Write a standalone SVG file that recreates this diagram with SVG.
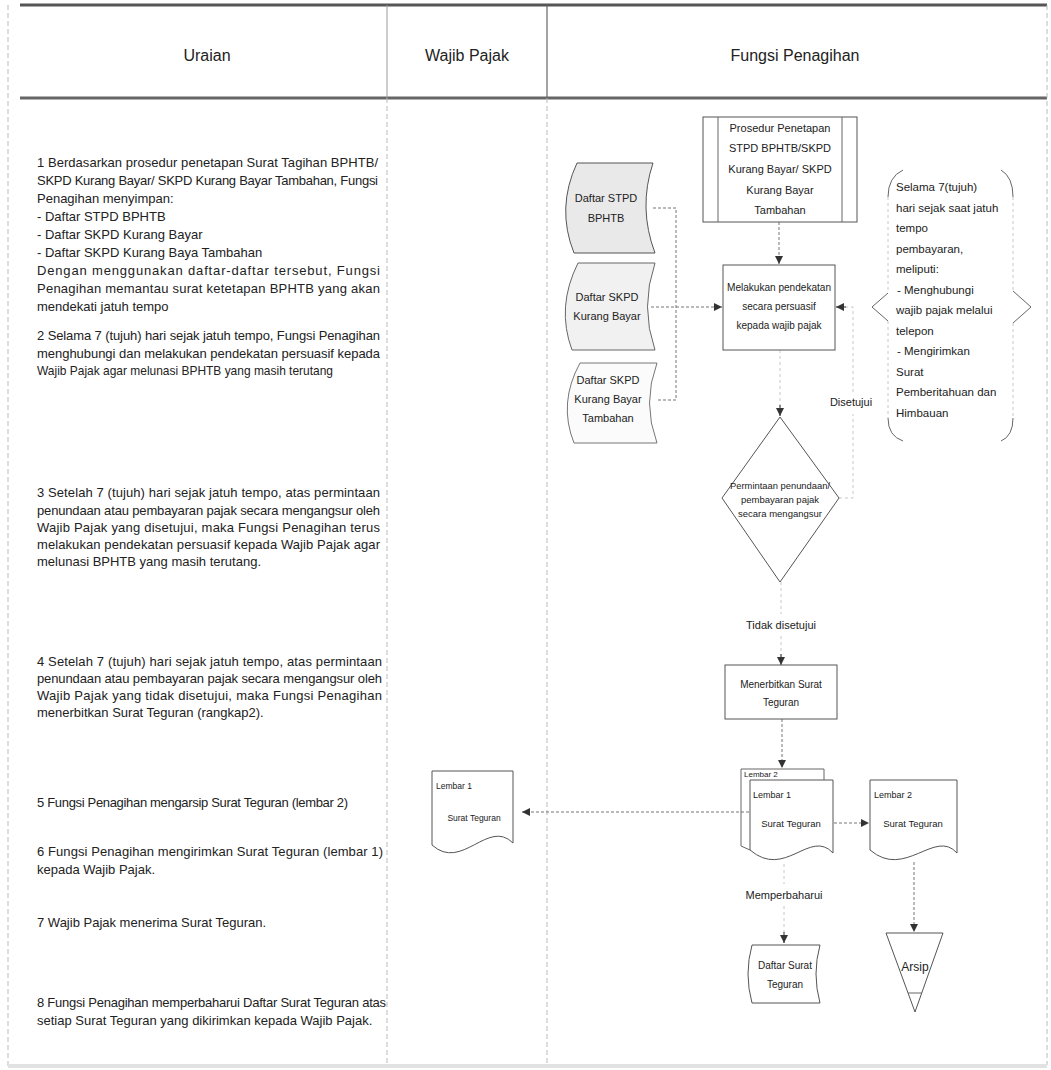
<svg xmlns="http://www.w3.org/2000/svg" width="1051" height="1070" viewBox="0 0 1051 1070">
<defs>
<marker id="ah" viewBox="0 0 10 10" refX="10" refY="5" markerWidth="8" markerHeight="8" markerUnits="userSpaceOnUse" orient="auto">
<path d="M0,0 L10,5 L0,10 z" fill="#333"/>
</marker>
</defs>
<style>
.t{font-family:'Liberation Sans',Arial,sans-serif;fill:#222}
.p{font-size:13px}
.h{font-size:16px;text-anchor:middle}
.n{font-size:11px}
.b{font-size:11.5px}
.m{font-size:10px;text-anchor:middle}
.c{text-anchor:middle}
.shape{fill:#fff;stroke:#555;stroke-width:1}
.conn{fill:none;stroke:#777;stroke-width:1;stroke-dasharray:3 2}
.faint{fill:none;stroke:#c8c8c8;stroke-width:1;stroke-dasharray:3 3}
.solid{fill:none;stroke:#666;stroke-width:1}
.grid{stroke:#bbb;stroke-width:1;stroke-dasharray:5 3;fill:none}
</style>
<rect width="1051" height="1070" fill="#fff"/>

<g id="table">
<line x1="20" y1="5" x2="1047" y2="5" stroke="#555" stroke-width="3"/>
<line x1="20" y1="98" x2="1047" y2="98" stroke="#666" stroke-width="3"/>
<line class="grid" x1="8" y1="5" x2="8" y2="1068"/>
<line x1="387" y1="5" x2="387" y2="98" stroke="#999" stroke-width="1"/>
<line class="grid" x1="387" y1="98" x2="387" y2="1065"/>
<line x1="547" y1="5" x2="547" y2="98" stroke="#666" stroke-width="1.2"/>
<line class="grid" x1="547" y1="98" x2="547" y2="1065"/>
<line class="grid" x1="1047" y1="5" x2="1047" y2="1065"/>
<line x1="8" y1="1066" x2="1047" y2="1066" stroke="#e2e2e2" stroke-width="4"/>
<text class="t h" x="207" y="61">Uraian</text>
<text class="t h" x="467" y="61">Wajib Pajak</text>
<text class="t h" x="795" y="61">Fungsi Penagihan</text>
</g>

<g id="uraian">
<text class="t p" x="37" y="167" textLength="341" lengthAdjust="spacing">1 Berdasarkan prosedur penetapan Surat Tagihan BPHTB/</text>
<text class="t p" x="37" y="185" textLength="341" lengthAdjust="spacing">SKPD Kurang Bayar/ SKPD Kurang Bayar Tambahan, Fungsi</text>
<text class="t p" x="37" y="203">Penagihan menyimpan:</text>
<text class="t p" x="37" y="221">- Daftar STPD BPHTB</text>
<text class="t p" x="37" y="239">- Daftar SKPD Kurang Bayar</text>
<text class="t p" x="37" y="257">- Daftar SKPD Kurang Baya Tambahan</text>
<text class="t p" x="37" y="275" textLength="343" lengthAdjust="spacing">Dengan menggunakan daftar-daftar tersebut, Fungsi</text>
<text class="t p" x="37" y="293" textLength="343" lengthAdjust="spacing">Penagihan memantau surat ketetapan BPHTB yang akan</text>
<text class="t p" x="37" y="311">mendekati jatuh tempo</text>

<text class="t p" x="37" y="340" textLength="343" lengthAdjust="spacing">2 Selama 7 (tujuh) hari sejak jatuh tempo, Fungsi Penagihan</text>
<text class="t p" x="37" y="358" textLength="343" lengthAdjust="spacing">menghubungi dan melakukan pendekatan persuasif kepada</text>
<text class="t p" x="37" y="375" textLength="296" lengthAdjust="spacingAndGlyphs">Wajib Pajak agar melunasi BPHTB yang masih terutang</text>

<text class="t p" x="37" y="497" textLength="343" lengthAdjust="spacing">3 Setelah 7 (tujuh) hari sejak jatuh tempo, atas permintaan</text>
<text class="t p" x="37" y="515" textLength="343" lengthAdjust="spacing">penundaan atau pembayaran pajak secara mengangsur oleh</text>
<text class="t p" x="37" y="532" textLength="343" lengthAdjust="spacing">Wajib Pajak yang disetujui, maka Fungsi Penagihan terus</text>
<text class="t p" x="37" y="549" textLength="343" lengthAdjust="spacing">melakukan pendekatan persuasif kepada Wajib Pajak agar</text>
<text class="t p" x="37" y="566">melunasi BPHTB yang masih terutang.</text>

<text class="t p" x="37" y="666" textLength="345" lengthAdjust="spacing">4 Setelah 7 (tujuh) hari sejak jatuh tempo, atas permintaan</text>
<text class="t p" x="37" y="683" textLength="345" lengthAdjust="spacing">penundaan atau pembayaran pajak secara mengangsur oleh</text>
<text class="t p" x="37" y="700" textLength="345" lengthAdjust="spacing">Wajib Pajak yang tidak disetujui, maka Fungsi Penagihan</text>
<text class="t p" x="37" y="717">menerbitkan Surat Teguran (rangkap2).</text>

<text class="t p" x="37" y="807" textLength="311" lengthAdjust="spacing">5 Fungsi Penagihan mengarsip Surat Teguran (lembar 2)</text>

<text class="t p" x="37" y="856" textLength="346" lengthAdjust="spacing">6 Fungsi Penagihan mengirimkan Surat Teguran (lembar 1)</text>
<text class="t p" x="37" y="874">kepada Wajib Pajak.</text>

<text class="t p" x="37" y="927">7 Wajib Pajak menerima Surat Teguran.</text>

<text class="t p" x="37" y="1007" textLength="349" lengthAdjust="spacing">8 Fungsi Penagihan memperbaharui Daftar Surat Teguran atas</text>
<text class="t p" x="37" y="1025">setiap Surat Teguran yang dikirimkan kepada Wajib Pajak.</text>
</g>

<g id="connectors">
<path class="conn" d="M653 208 H676 V400 H656"/>
<path class="conn" d="M651 307 H722" marker-end="url(#ah)"/>
<path class="conn" d="M779 222 V264" marker-end="url(#ah)"/>
<path class="faint" d="M780 350 V416"/>
<path d="M780 405 V416" stroke="#333" marker-end="url(#ah)"/>
<path class="faint" d="M839 498 H853 V414"/>
<path class="faint" d="M853 392 V307 H838"/>
<path d="M846 307 H836" stroke="#333" marker-end="url(#ah)"/>
<path class="faint" d="M781 582 V614"/>
<path class="faint" d="M781 636 V664"/>
<path d="M781 654 V665" stroke="#333" marker-end="url(#ah)"/>
<path class="conn" d="M782 719 V768" marker-end="url(#ah)"/>
<path class="conn" d="M834 823 H869" marker-end="url(#ah)"/>
<path class="conn" d="M749 812 H522" marker-end="url(#ah)"/>
<path class="conn" d="M914 862 V932" marker-end="url(#ah)"/>
<path class="faint" d="M784 864 V884"/>
<path class="faint" d="M784 906 V943"/>
<path d="M784 932 V943" stroke="#333" marker-end="url(#ah)"/>
<text class="t n c" x="851" y="406">Disetujui</text>
<text class="t n c" x="781" y="629">Tidak disetujui</text>
<text class="t n c" x="784" y="899">Memperbaharui</text>
</g>

<g id="daftar-stpd">
<path d="M577 163 L653 163 Q638 208 655 253 L574 253 Q556 208 577 163 Z" fill="#e9e9e9" stroke="#555"/>
<text class="t n c" x="606" y="202">Daftar STPD</text>
<text class="t n c" x="606" y="222">BPHTB</text>
</g>
<g id="daftar-skpd-kb">
<path d="M578 263 L655 263 Q640 307 655 350 L572 350 Q556 307 578 263 Z" fill="#f1f1f1" stroke="#666"/>
<text class="t n c" x="607" y="301">Daftar SKPD</text>
<text class="t n c" x="607" y="320">Kurang Bayar</text>
</g>
<g id="daftar-skpd-kbt">
<path d="M580 363 L657 363 Q642 403 657 443 L574 443 Q558 403 580 363 Z" fill="#fbfbfb" stroke="#777"/>
<text class="t n c" x="608" y="384">Daftar SKPD</text>
<text class="t n c" x="608" y="403">Kurang Bayar</text>
<text class="t n c" x="608" y="422">Tambahan</text>
</g>

<g id="prosedur">
<rect class="shape" x="703" y="117" width="154" height="105"/>
<line class="solid" x1="718" y1="117" x2="718" y2="222"/>
<line class="solid" x1="842" y1="117" x2="842" y2="222"/>
<text class="t n c" x="780" y="132">Prosedur Penetapan</text>
<text class="t n c" x="780" y="152">STPD BPHTB/SKPD</text>
<text class="t n c" x="780" y="173">Kurang Bayar/ SKPD</text>
<text class="t n c" x="780" y="194">Kurang Bayar</text>
<text class="t n c" x="780" y="214">Tambahan</text>
</g>

<g id="melakukan">
<rect class="shape" x="723" y="265" width="112" height="85"/>
<text class="t m" x="779" y="291" textLength="104" lengthAdjust="spacingAndGlyphs">Melakukan pendekatan</text>
<text class="t m" x="779" y="310">secara persuasif</text>
<text class="t m" x="779" y="329">kepada wajib pajak</text>
</g>

<g id="catatan">
<path d="M903 170 Q888 177 888 197" class="solid"/>
<path d="M888 197 V293" class="faint"/>
<path d="M888 293 L872 307 L888 321" class="solid"/>
<path d="M888 321 V418" class="faint"/>
<path d="M888 418 Q888 436 903 441" class="solid"/>
<path d="M1001 170 Q1013 177 1013 197" class="solid"/>
<path d="M1013 197 V291" class="faint"/>
<path d="M1013 291 L1031 307 L1013 323" class="solid"/>
<path d="M1013 323 V418" class="faint"/>
<path d="M1013 418 Q1013 436 1001 441" class="solid"/>
<text class="t b" x="896" y="191">Selama 7(tujuh)</text>
<text class="t b" x="896" y="212">hari sejak saat jatuh</text>
<text class="t b" x="896" y="232">tempo</text>
<text class="t b" x="896" y="253">pembayaran,</text>
<text class="t b" x="896" y="273">meliputi:</text>
<text class="t b" x="897" y="294">- Menghubungi</text>
<text class="t b" x="896" y="314">wajib pajak melalui</text>
<text class="t b" x="896" y="335">telepon</text>
<text class="t b" x="897" y="355">- Mengirimkan</text>
<text class="t b" x="896" y="376">Surat</text>
<text class="t b" x="896" y="396">Pemberitahuan dan</text>
<text class="t b" x="896" y="417">Himbauan</text>
</g>

<g id="keputusan">
<polygon class="shape" points="780,417 839,498 780,582 722,498"/>
<text class="t c" x="780" y="489" font-size="9.5" textLength="100" lengthAdjust="spacingAndGlyphs">Permintaan penundaan/</text>
<text class="t c" x="780" y="503" font-size="9.5">pembayaran pajak</text>
<text class="t c" x="780" y="517" font-size="9.5">secara mengangsur</text>
</g>

<g id="menerbitkan">
<rect class="shape" x="725" y="665" width="112" height="54"/>
<text class="t m" x="781" y="688">Menerbitkan Surat</text>
<text class="t m" x="781" y="706">Teguran</text>
</g>

<g id="surat-teguran-rangkap">
<path class="solid" d="M750 850 L741 846 L741 769 L824 769 L824 780"/>
<path class="shape" d="M750 780 H833 V853 C810 828 785 880 750 850 Z"/>
<text class="t" x="744" y="777" font-size="8">Lembar 2</text>
<text class="t" x="753" y="798" font-size="9">Lembar 1</text>
<text class="t c" x="791" y="827" font-size="9.5">Surat Teguran</text>
</g>

<g id="surat-teguran-lembar2">
<path class="shape" d="M870 780 H957 V853 C935 828 905 880 870 850 Z" stroke="#777"/>
<text class="t" x="874" y="798" font-size="9">Lembar 2</text>
<text class="t c" x="913" y="827" font-size="9.5">Surat Teguran</text>
</g>

<g id="surat-teguran-wp">
<path class="shape" d="M432 771 H513 V843 C488 818 462 872 432 845 Z"/>
<text class="t" x="436" y="789" font-size="8.5">Lembar 1</text>
<text class="t c" x="474" y="821" font-size="8.5">Surat Teguran</text>
</g>

<g id="daftar-surat-teguran">
<path class="shape" d="M752 945 L820 945 Q812 974 820 1003 L752 1003 Q744 974 752 945 Z"/>
<text class="t m" x="785" y="969">Daftar Surat</text>
<text class="t m" x="785" y="988">Teguran</text>
</g>

<g id="arsip">
<polygon class="shape" points="886,933 943,933 915,1012"/>
<line class="solid" x1="908" y1="993" x2="922" y2="993"/>
<text class="t c" x="915" y="971" font-size="12">Arsip</text>
</g>
</svg>
